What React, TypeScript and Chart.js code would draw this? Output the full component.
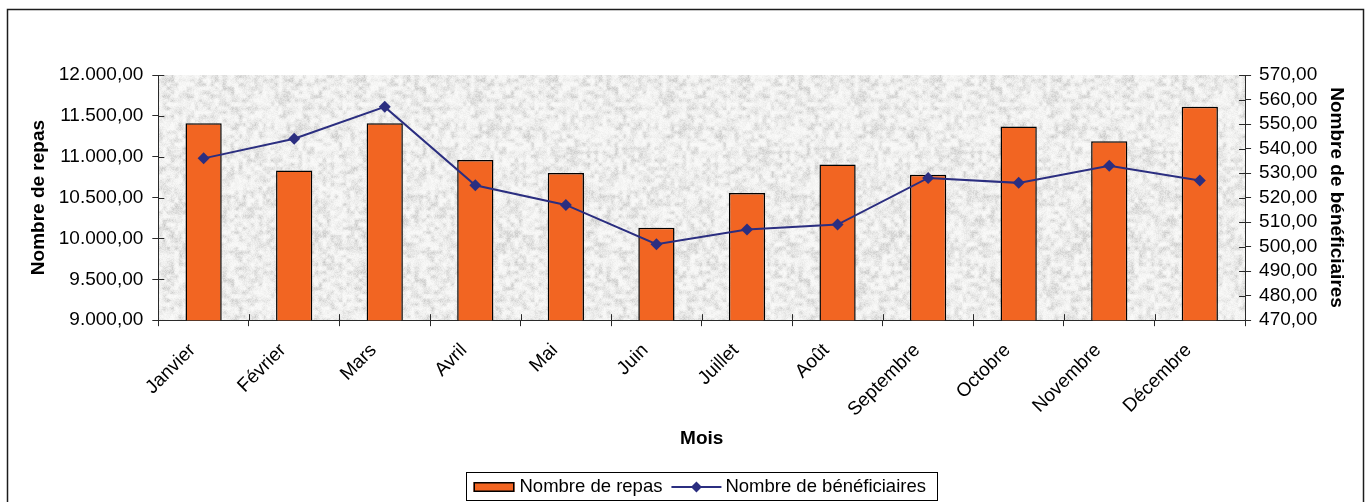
import React, { useEffect, useRef } from "react";
import { Chart, registerables } from "chart.js";

Chart.register(...registerables);

// Monthly meals served (left axis) and number of beneficiaries (right axis)
const months = [
  "Janvier", "Février", "Mars", "Avril", "Mai", "Juin",
  "Juillet", "Août", "Septembre", "Octobre", "Novembre", "Décembre",
];
const repas = [11410, 10830, 11410, 10960, 10800, 10130, 10555, 10905, 10780, 11370, 11190, 11610];
const beneficiaires = [536, 544, 557, 525, 517, 501, 507, 509, 528, 526, 533, 527];

const repasAxis = { min: 9000, max: 12000, step: 500 };
const beneficiairesAxis = { min: 470, max: 570, step: 10 };

const seriesLabels = ["Nombre de repas", "Nombre de bénéficiaires"];
const axisTitles = { x: "Mois", left: "Nombre de repas", right: "Nombre de bénéficiaires" };

const FONT_FAMILY = "'Liberation Sans', Arial, Helvetica, sans-serif";
const TICK_FONT = { family: FONT_FAMILY, size: 19 };
const LEGEND_FONT_SIZE = 18.5;
const TITLE_FONT = { family: FONT_FAMILY, size: 19, weight: "bold" as const };
const BAR_COLOR = "#F26522";
const LINE_COLOR = "#2B2E80";
const AXIS_COLOR = "#2a2a2a";

// "12000" -> "12.000,00"
function formatFr(v: number): string {
  const [intPart, dec] = v.toFixed(2).split(".");
  return intPart.replace(/\B(?=(\d{3})+(?!\d))/g, ".") + "," + dec;
}

function hash2(x: number, y: number): number {
  const h = Math.sin(x * 127.1 + y * 311.7) * 43758.5453;
  return h - Math.floor(h);
}

// Light grey mottled granite fill for the plot area (deterministic value noise)
function makeGranite(): HTMLCanvasElement {
  const size = 192;
  const cell = 4;
  const cells = size / cell;
  const raw = document.createElement("canvas");
  raw.width = raw.height = size;
  const rctx = raw.getContext("2d")!;
  const img = rctx.createImageData(size, size);
  const smooth = (t: number) => t * t * (3 - 2 * t);
  for (let y = 0; y < size; y++) {
    for (let x = 0; x < size; x++) {
      const gx = x / cell, gy = y / cell;
      const x0 = Math.floor(gx), y0 = Math.floor(gy);
      const fx = smooth(gx - x0), fy = smooth(gy - y0);
      const a = hash2(x0 % cells, y0 % cells);
      const b = hash2((x0 + 1) % cells, y0 % cells);
      const c = hash2(x0 % cells, (y0 + 1) % cells);
      const d = hash2((x0 + 1) % cells, (y0 + 1) % cells);
      const coarse = (a * (1 - fx) + b * fx) * (1 - fy) + (c * (1 - fx) + d * fx) * fy;
      const fine = hash2(x + 0.37, y + 0.71);
      const m = 0.7 * coarse + 0.3 * fine;
      const v = 250 - Math.round(m * m * 52);
      const i = (y * size + x) * 4;
      img.data[i] = v;
      img.data[i + 1] = v;
      img.data[i + 2] = v - 1;
      img.data[i + 3] = 255;
    }
  }
  rctx.putImageData(img, 0, 0);
  const out = document.createElement("canvas");
  out.width = out.height = size;
  const octx = out.getContext("2d")!;
  octx.filter = "blur(0.5px)";
  for (const dx of [-size, 0, size]) {
    for (const dy of [-size, 0, size]) octx.drawImage(raw, dx, dy);
  }
  return out;
}

function legendSwatchBar(ctx: CanvasRenderingContext2D, x: number, midY: number) {
  ctx.fillStyle = BAR_COLOR;
  ctx.fillRect(x, midY - 5, 41, 10);
  ctx.strokeStyle = "#000";
  ctx.lineWidth = 1.5;
  ctx.strokeRect(x + 0.75, midY - 4.25, 39.5, 8.5);
}

function legendSwatchLine(ctx: CanvasRenderingContext2D, x: number, midY: number) {
  ctx.strokeStyle = LINE_COLOR;
  ctx.lineWidth = 2;
  ctx.beginPath();
  ctx.moveTo(x, midY);
  ctx.lineTo(x + 50, midY);
  ctx.stroke();
  const cx = x + 25;
  ctx.fillStyle = LINE_COLOR;
  ctx.beginPath();
  ctx.moveTo(cx, midY - 5.5);
  ctx.lineTo(cx + 5.5, midY);
  ctx.lineTo(cx, midY + 5.5);
  ctx.lineTo(cx - 5.5, midY);
  ctx.closePath();
  ctx.fill();
}

export default function App() {
  const canvasRef = useRef<HTMLCanvasElement | null>(null);

  useEffect(() => {
    const canvas = canvasRef.current;
    if (!canvas) return;
    const granite = makeGranite();

    const decor = {
      id: "decor",
      beforeDraw(chart: any) {
        const { ctx, chartArea: a, width, height } = chart;
        ctx.save();
        ctx.fillStyle = "#ffffff";
        ctx.fillRect(0, 0, width, height);
        const pattern = ctx.createPattern(granite, "repeat");
        if (pattern) ctx.fillStyle = pattern;
        ctx.fillRect(a.left, a.top, a.right - a.left, a.bottom - a.top);
        ctx.strokeStyle = "#1c1c1c";
        ctx.lineWidth = 1.5;
        ctx.strokeRect(7.5, 9.5, width - 15, height + 20);
        ctx.restore();
      },
      afterDraw(chart: any) {
        const { ctx, chartArea: a, scales } = chart;
        ctx.save();
        // tick marks crossing into the plot area
        ctx.strokeStyle = AXIS_COLOR;
        ctx.lineWidth = 1;
        ctx.beginPath();
        for (const t of scales.y.ticks) {
          const y = Math.round(scales.y.getPixelForValue(t.value)) + 0.5;
          ctx.moveTo(a.left, y);
          ctx.lineTo(a.left + 6, y);
        }
        for (const t of scales.y1.ticks) {
          const y = Math.round(scales.y1.getPixelForValue(t.value)) + 0.5;
          ctx.moveTo(a.right - 6, y);
          ctx.lineTo(a.right, y);
        }
        const n = months.length;
        const step = (scales.x.right - scales.x.left) / n;
        for (let k = 0; k <= n; k++) {
          const x = Math.round(scales.x.left + k * step) + 0.5;
          ctx.moveTo(x, a.bottom - 6);
          ctx.lineTo(x, a.bottom);
        }
        ctx.stroke();

        // boxed legend centred under the plot area
        ctx.font = `${LEGEND_FONT_SIZE}px ${FONT_FAMILY}`;
        ctx.textBaseline = "middle";
        ctx.textAlign = "left";
        const l1 = chart.data.datasets[0].label as string;
        const l2 = chart.data.datasets[1].label as string;
        const w1 = ctx.measureText(l1).width;
        const w2 = ctx.measureText(l2).width;
        const total = 7 + 41 + 5 + w1 + 9 + 50 + 4 + w2 + 12;
        const cx = (a.left + a.right) / 2;
        const left = Math.round(cx - total / 2) + 0.5;
        const top = chart.height - 29.5;
        ctx.strokeStyle = "#000";
        ctx.lineWidth = 1;
        ctx.strokeRect(left, top, Math.round(total), 28);
        const midY = top + 14.5;
        let x = left + 7;
        legendSwatchBar(ctx, x, midY);
        x += 41 + 5;
        ctx.fillStyle = "#000";
        ctx.fillText(l1, x, midY);
        x += w1 + 9;
        legendSwatchLine(ctx, x, midY);
        x += 50 + 4;
        ctx.fillStyle = "#000";
        ctx.fillText(l2, x, midY);
        ctx.restore();
      },
    };

    const chart = new Chart(canvas, {
      type: "bar",
      data: {
        labels: months,
        datasets: [
          {
            type: "bar",
            label: seriesLabels[0],
            data: repas,
            yAxisID: "y",
            backgroundColor: BAR_COLOR,
            borderColor: "#000",
            borderWidth: 1.5,
            barPercentage: 0.4,
            categoryPercentage: 1,
            order: 2,
          },
          {
            type: "line",
            label: seriesLabels[1],
            data: beneficiaires,
            yAxisID: "y1",
            borderColor: LINE_COLOR,
            backgroundColor: LINE_COLOR,
            borderWidth: 2,
            pointStyle: "rectRot",
            pointRadius: 6,
            pointBorderWidth: 0,
            pointBackgroundColor: LINE_COLOR,
            tension: 0,
            order: 1,
          },
        ],
      } as any,
      options: {
        animation: false,
        responsive: false,
        events: [],
        layout: { padding: { left: 23, right: 19, top: 75, bottom: 48 } },
        plugins: {
          legend: { display: false },
          tooltip: { enabled: false },
        },
        scales: {
          x: {
            type: "category",
            offset: true,
            grid: { offset: true, drawOnChartArea: false, tickLength: 6, color: AXIS_COLOR },
            border: { color: AXIS_COLOR, width: 1 },
            ticks: {
              color: "#000",
              font: TICK_FONT,
              maxRotation: 45,
              minRotation: 45,
              autoSkip: false,
              padding: 2,
              // trailing gap keeps each slanted label clear of its tick
              callback: (_v: any, i: number) => months[i] + "   ",
            },
            title: {
              display: true,
              text: axisTitles.x,
              color: "#000",
              font: TITLE_FONT,
              padding: { top: 4, bottom: 4 },
            },
          },
          y: {
            position: "left",
            min: repasAxis.min,
            max: repasAxis.max,
            grid: { drawOnChartArea: false, tickLength: 6, color: AXIS_COLOR },
            border: { color: AXIS_COLOR, width: 1 },
            ticks: {
              stepSize: repasAxis.step,
              autoSkip: false,
              color: "#000",
              font: TICK_FONT,
              padding: 9,
              callback: (v: any) => formatFr(Number(v)),
            },
            title: {
              display: true,
              text: axisTitles.left,
              color: "#000",
              font: TITLE_FONT,
              padding: { top: 4, bottom: 0 },
            },
          },
          y1: {
            position: "right",
            min: beneficiairesAxis.min,
            max: beneficiairesAxis.max,
            grid: { drawOnChartArea: false, tickLength: 6, color: AXIS_COLOR },
            border: { color: AXIS_COLOR, width: 1 },
            ticks: {
              stepSize: beneficiairesAxis.step,
              autoSkip: false,
              color: "#000",
              font: TICK_FONT,
              padding: 8,
              callback: (v: any) => formatFr(Number(v)),
            },
            title: {
              display: true,
              text: axisTitles.right,
              color: "#000",
              font: TITLE_FONT,
              padding: { top: 4, bottom: 0 },
            },
          },
        },
      } as any,
      plugins: [decor],
    });

    return () => chart.destroy();
  }, []);

  return (
    <div style={{ position: "fixed", left: 0, top: 0, width: 1371, height: 502, background: "#fff" }}>
      <canvas ref={canvasRef} width={1371} height={502} style={{ display: "block" }} />
    </div>
  );
}
